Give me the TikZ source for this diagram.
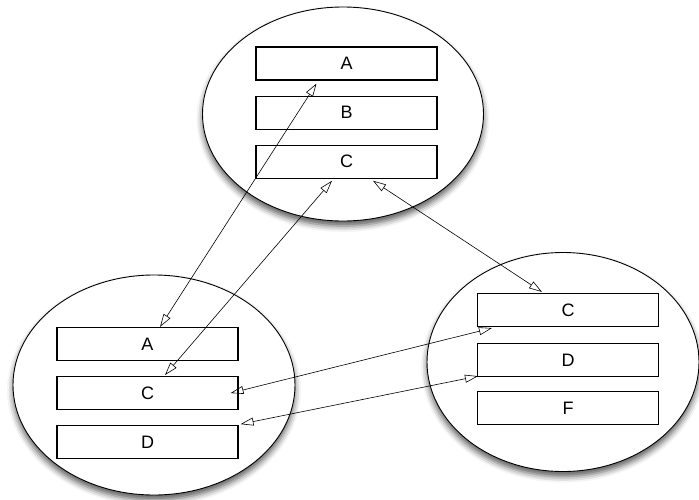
\documentclass[tikz,border=0pt]{standalone}
\usepackage{fontspec}
\setmainfont{Liberation Sans}
\usetikzlibrary{positioning,shapes.geometric,arrows.meta,shadows.blur}

\begin{document}
\begin{tikzpicture}[x=1pt,y=-1pt,
  site/.style={ellipse,draw=black,fill=white,line width=0.9pt,
    blur shadow={shadow xshift=0pt,shadow yshift=-5pt,shadow blur radius=6pt,shadow opacity=65}},
  rec/.style={rectangle,draw=black,fill=white,line width=1.1pt,
    minimum width=181pt,minimum height=33pt,inner sep=0pt,font=\fontsize{18}{20}\selectfont},
  link/.style={{Triangle[open,length=13pt,width=8pt]}-{Triangle[open,length=13pt,width=8pt]},line width=0.6pt}]
\useasboundingbox (0,0) rectangle (699,499);
\node[site,minimum width=281pt,minimum height=214pt] (top) at (343,114) {};
\node[site,minimum width=282pt,minimum height=220pt] (left) at (154,385) {};
\node[site,minimum width=272pt,minimum height=219pt] (right) at (563,362) {};
\node[rec] (tA) at (346.5,63.5) {A};
\node[rec,below=15pt of tA] (tB) {B};
\node[rec,below=15pt of tB] (tC) {C};
\node[rec] (lA) at (147.5,344) {A};
\node[rec,below=15pt of lA] (lC) {C};
\node[rec,below=15pt of lC] (lD) {D};
\node[rec] (rC) at (568,310) {C};
\node[rec,below=16pt of rC] (rD) {D};
\node[rec,below=14pt of rD] (rF) {F};
\draw[link] ([xshift=-30pt,yshift=-3pt]tA.south) -- ([xshift=12.5pt]lA.north);
\draw[link] ([xshift=-14.5pt,yshift=-2pt]tC.south) -- ([xshift=17.5pt,yshift=1pt]lC.north);
\draw[link] ([xshift=26.5pt,yshift=-2pt]tC.south) -- ([xshift=-26pt,yshift=1pt]rC.north);
\draw[link] ([xshift=15pt,yshift=-1pt]rC.south west) -- ([xshift=-8pt]lC.east);
\draw[link] ([xshift=1pt,yshift=1pt]rD.south west) -- ([xshift=2pt,yshift=1pt]lD.north east);
\end{tikzpicture}
\end{document}
